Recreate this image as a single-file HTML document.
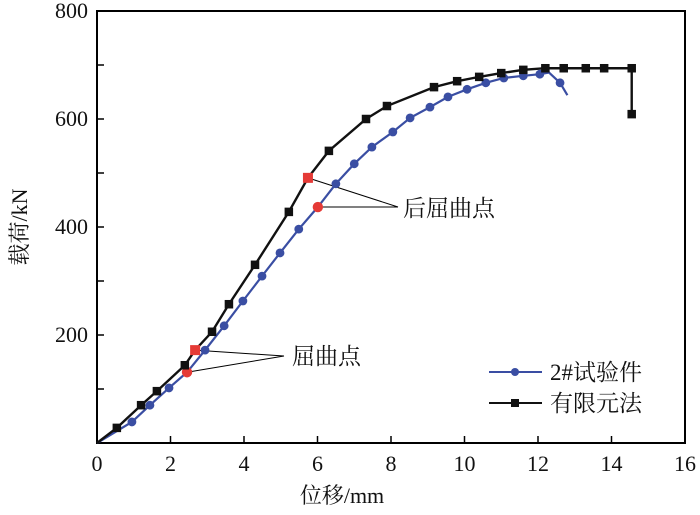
<!DOCTYPE html>
<html><head><meta charset="utf-8"><style>
body{margin:0;background:#fff}
svg text{font-family:"Liberation Serif","Noto Serif CJK SC",serif;fill:#111}
</style></head><body>
<svg id="chart" width="700" height="510" xmlns="http://www.w3.org/2000/svg">
<g id="g"></g>
</svg>
<script>
const xTicks=[0,2,4,6,8,10,12,14,16];
const yTickLabels=[200,400,600,800];
const yMinor=[100,200,300,400,500,600,700];
const testX=[0,0.95,1.44,1.96,2.45,2.94,3.46,3.97,4.49,4.98,5.49,6.01,6.5,7.0,7.48,8.05,8.52,9.06,9.55,10.07,10.58,11.07,11.6,12.05,12.6];
const testY=[0,39,70,102,131,172,217,263,309,352,396,437,480,517,548,576,602,622,641,655,667,676,680,683,667];
const testTailX=[12.3,12.8];
const testTailY=[686,644];
const testRed=[4,11];
const femX=[0,0.54,1.2,1.63,2.39,2.67,3.13,3.59,4.3,5.22,5.74,6.31,7.32,7.89,9.17,9.8,10.4,11.0,11.6,12.2,12.7,13.3,13.8,14.55,14.55];
const femY=[0,28,70,96,144,172,206,257,330,428,491,541,600,624,659,670,678,685,691,694,694,694,694,694,609];
const femRed=[5,10];
const X=v=>97+36.75*v, Y=v=>443-0.54*v;
const NS='http://www.w3.org/2000/svg', g=document.getElementById('g');
function mk(t,a,txt){const e=document.createElementNS(NS,t);for(const k in a)e.setAttribute(k,a[k]);if(txt!=null)e.textContent=txt;g.appendChild(e);return e;}
let e;
e=mk('rect',{x:97,y:11,width:588,height:432,fill:'none',stroke:'#000','stroke-width':2});


xTicks.forEach(v=>{
 e=mk('line',{x1:X(v),x2:X(v),y1:443,y2:436,stroke:'#000','stroke-width':1.5});
 
 
 e=mk('text',{x:X(v),y:471,'text-anchor':'middle','font-size':22},String(v));
 
 
});
yMinor.forEach(v=>{
 e=mk('line',{x1:97,x2:104,y1:Y(v),y2:Y(v),stroke:'#000','stroke-width':1.5});
 
 
});
yTickLabels.forEach(v=>{
 e=mk('text',{x:88,y:Y(v)+7,'text-anchor':'end','font-size':22},String(v));
 
 
});
e=mk('text',{x:342,y:503,'text-anchor':'middle','font-size':22},'位移/mm');


e=mk('text',{x:0,y:0,'text-anchor':'middle','font-size':22,transform:'translate(27,227) rotate(-90)'},'载荷/kN');


function ann(px,py,qx,qy){e=mk('line',{x1:px,y1:py,x2:qx,y2:qy,stroke:'#000','stroke-width':1});
 
 }
ann(X(femX[femRed[0]]),Y(femY[femRed[0]]),284,356);
ann(X(testX[testRed[0]]),Y(testY[testRed[0]]),284,356);
ann(X(femX[femRed[1]]),Y(femY[femRed[1]]),398,207);
ann(X(testX[testRed[1]]),Y(testY[testRed[1]]),398,207);
e=mk('text',{x:292,y:364,'font-size':23},'屈曲点');


e=mk('text',{x:403,y:216,'font-size':23},'后屈曲点');


const tPts=testX.map((x,i)=>[x,testY[i]]).concat(testTailX.map((x,i)=>[x,testTailY[i]])).sort((a,b)=>a[0]-b[0]);
e=mk('polyline',{points:tPts.map(p=>X(p[0])+','+Y(p[1])).join(' '),fill:'none',stroke:'#3a4ea3','stroke-width':2.2});


e=mk('polyline',{points:femX.map((x,i)=>X(x)+','+Y(femY[i])).join(' '),fill:'none',stroke:'#111','stroke-width':2.4});


testX.forEach((x,i)=>{ if(i===0)return;
 e=mk('circle',{cx:X(x),cy:Y(testY[i]),r:testRed.includes(i)?5.2:4.4,fill:testRed.includes(i)?'#e53a36':'#3a4ea3'});
 
 
});
femX.forEach((x,i)=>{ if(i===0)return; const s=femRed.includes(i)?10:8.5;
 e=mk('rect',{x:X(x)-s/2,y:Y(femY[i])-s/2,width:s,height:s,fill:femRed.includes(i)?'#e53a36':'#111'});
 
 
});
e=mk('line',{x1:489,x2:542,y1:372,y2:372,stroke:'#3a4ea3','stroke-width':2});


mk('circle',{cx:515,cy:372,r:4,fill:'#3a4ea3'});
e=mk('text',{x:550,y:380,'font-size':23},'2#试验件');


e=mk('line',{x1:489,x2:542,y1:403,y2:403,stroke:'#111','stroke-width':2});


mk('rect',{x:511,y:399,width:8,height:8,fill:'#111'});
e=mk('text',{x:550,y:411,'font-size':23},'有限元法');


</script>
</body></html>
